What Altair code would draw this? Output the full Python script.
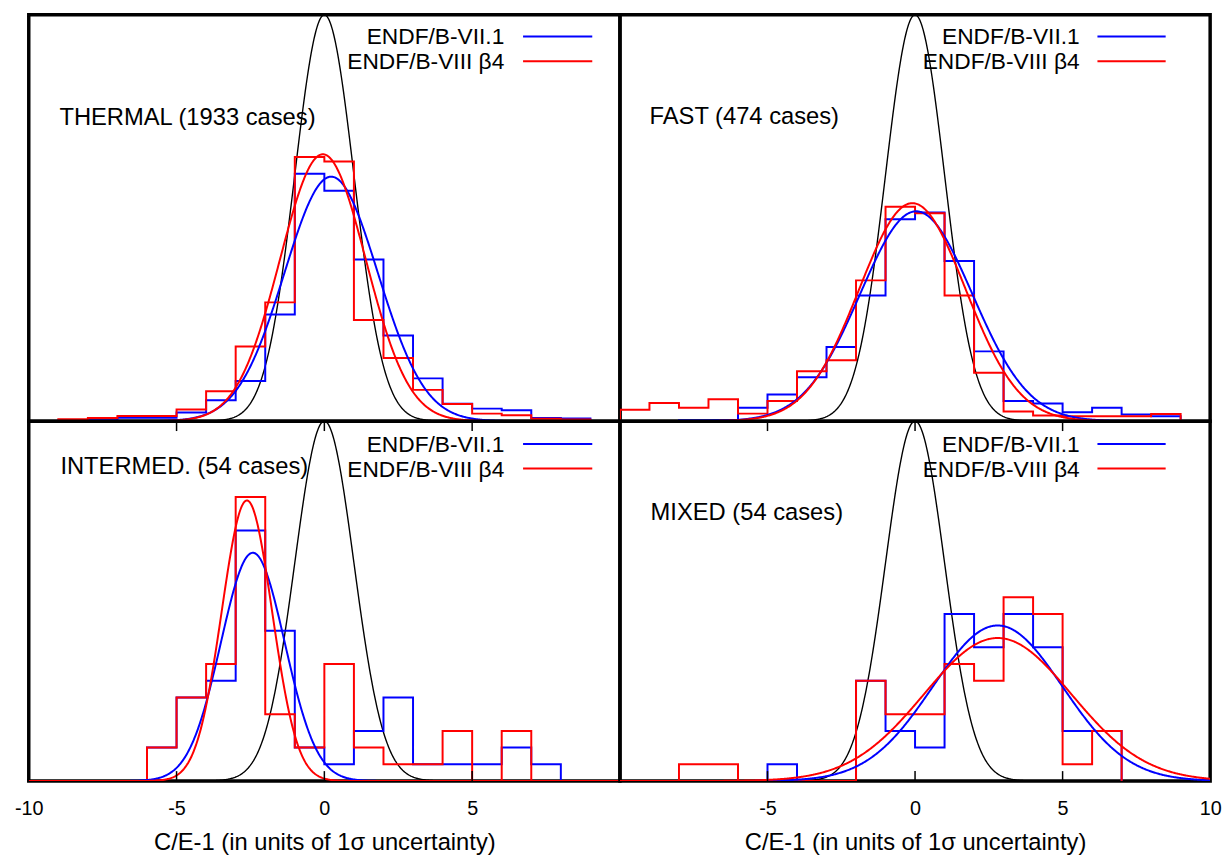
import altair as alt
import numpy as np
import pandas as pd

FONT = "Liberation Sans"
BLUE = "#0000ff"
RED = "#ff0000"
X_DOMAIN = [-10, 10]
Y_TOP = 0.3989  # peak of the unit normal reaches the top of each panel

# ---------------- histogram data (density per unit of C/E-1, bin width 1) ----------------
# THERMAL (1933 cases) - bins start at left edge given, width 1
thermal_vii1_start = -9
thermal_vii1 = [0.001, 0.001, 0.0034, 0.0034, 0.0085, 0.0206, 0.0394, 0.1047, 0.2429,
                0.2261, 0.1586, 0.0840, 0.0420, 0.0171, 0.0123, 0.0107, 0.0032, 0.0026]
thermal_viii_start = -9
thermal_viii = [0.002, 0.003, 0.005, 0.005, 0.0115, 0.0293, 0.0733, 0.1166, 0.2594,
                0.2549, 0.0992, 0.0620, 0.0307, 0.0168, 0.0074, 0.0058, 0.0023, 0.0016]

# FAST (474 cases)
fast_vii1_start = -8
fast_vii1 = [0.001, 0.001, 0.0132, 0.0262, 0.0430, 0.0727, 0.1234, 0.1983, 0.2048,
             0.1573, 0.0685, 0.0197, 0.0174, 0.0087, 0.0132, 0.0065, 0.0048]
fast_viii_start = -10
fast_viii = [0.0113, 0.0178, 0.0132, 0.0216, 0.0074, 0.0197, 0.0491, 0.0598, 0.1382,
             0.2106, 0.2041, 0.1234, 0.0475, 0.0094, 0.0055, 0.0048, 0.0048, 0.0048, 0.0071]

# INTERMED. (54 cases) - counts per bin
inter_n = 54
inter_vii1_start = -6
inter_vii1_counts = [2, 5, 6, 15, 9, 2, 1, 3, 5, 1, 1, 1, 2, 1]
inter_viii_start = -6
inter_viii_counts = [2, 5, 7, 17, 4, 2, 7, 2, 1, 1, 3, 0, 3]

# MIXED (54 cases) - counts per bin
mixed_n = 54
mixed_vii1_start = -5
mixed_vii1_counts = [1, 0, 0, 6, 3, 2, 10, 8, 10, 8, 3, 3]
mixed_viii_start = -8
mixed_viii_counts = [1, 1, 0, 0, 0, 0, 6, 4, 4, 7, 6, 11, 10, 1, 3]

# ---------------- Gaussian fits: (amplitude, mean, sigma) ----------------
thermal_vii1_fit = (0.240, 0.23, 1.58)
thermal_viii_fit = (0.262, -0.05, 1.45)
fast_vii1_fit = (0.206, 0.04, 1.90)
fast_viii_fit = (0.214, -0.09, 1.80)
inter_vii1_fit = (0.253, -2.42, 1.08)
inter_viii_fit = (0.311, -2.62, 0.85)
mixed_vii1_fit = (0.1724, 2.80, 2.20)
mixed_viii_fit = (0.1585, 2.80, 2.50)
unit_normal_fit = (0.3989, 0.0, 1.0)

legend_labels = ["ENDF/B-VII.1", "ENDF/B-VIII \u03b24"]
axis_title = "C/E-1 (in units of 1\u03c3 uncertainty)"


def step_df(start, vals):
    xs = [start]
    ys = [0.0]
    for k, v in enumerate(vals):
        xs.append(start + k)
        ys.append(v)
    end = start + len(vals)
    xs += [end, end]
    ys += [vals[-1], 0.0]
    return pd.DataFrame({"x": xs, "y": ys, "i": list(range(len(xs)))})


def gauss_df(params):
    a, m, s = params
    xs = np.linspace(-10, 10, 801)
    return pd.DataFrame({"x": xs, "y": a * np.exp(-0.5 * ((xs - m) / s) ** 2)})


def make_panel(w, h, hists, fits, label, label_pos, legend_pos, axis_values):
    xscale = alt.Scale(domain=X_DOMAIN, nice=False, zero=False)
    yscale = alt.Scale(domain=[0, Y_TOP], nice=False, zero=True)
    if axis_values is None:
        xaxis = None
    else:
        xaxis = alt.Axis(values=axis_values, ticks=False, tickSize=0, domain=False, grid=False,
                         labelFont=FONT, labelFontSize=20, labelColor="black",
                         labelPadding=18, labelFlush=False,
                         labelExpr="datum.value < 0 ? '-' + abs(datum.value) : '' + datum.value",
                         title=axis_title, titleFont=FONT, titleFontSize=24,
                         titleFontWeight="normal", titleColor="black", titlePadding=12)
    X = alt.X("x:Q", scale=xscale, axis=xaxis, title=axis_title if xaxis is not None else None)
    Y = alt.Y("y:Q", scale=yscale, axis=None)

    layers = []
    layers.append(alt.Chart(gauss_df(unit_normal_fit)).mark_line(
        color="black", strokeWidth=1.4, clip=True).encode(x=X, y=Y))
    for (start, vals), col in zip(hists, [BLUE, RED]):
        layers.append(alt.Chart(step_df(start, vals)).mark_line(
            color=col, strokeWidth=2, interpolate="step-after", clip=True).encode(
            x=X, y=Y, order="i:Q"))
    for params, col in zip(fits, [BLUE, RED]):
        layers.append(alt.Chart(gauss_df(params)).mark_line(
            color=col, strokeWidth=2, clip=True).encode(x=X, y=Y))

    one = pd.DataFrame({"d": [0]})
    tx, lx1, lx2, rows = legend_pos
    for (base, ly), txt, col in zip(rows, legend_labels, [BLUE, RED]):
        layers.append(alt.Chart(one).mark_text(
            align="right", baseline="alphabetic", font=FONT, fontSize=23, color="black").encode(
            x=alt.value(tx), y=alt.value(base), text=alt.value(txt)))
        layers.append(alt.Chart(one).mark_rule(color=col, strokeWidth=2).encode(
            x=alt.value(lx1), x2=alt.value(lx2), y=alt.value(ly)))
    layers.append(alt.Chart(one).mark_text(
        align="left", baseline="alphabetic", font=FONT, fontSize=24, color="black").encode(
        x=alt.value(label_pos[0]), y=alt.value(label_pos[1]), text=alt.value(label)))

    if axis_values is not None:
        ticks = pd.DataFrame({"x": [-5, 0, 5]})
        layers.append(alt.Chart(ticks).mark_rule(color="black", strokeWidth=1.5).encode(
            x=X, y=alt.value(h), y2=alt.value(h - 10)))
        layers.append(alt.Chart(ticks).mark_rule(color="black", strokeWidth=1.5).encode(
            x=X, y=alt.value(0), y2=alt.value(10)))

    return alt.layer(*layers).properties(width=w, height=h)


TOP_H, BOT_H = 411, 364
LEFT_W, RIGHT_W = 598, 597

p1 = make_panel(LEFT_W, TOP_H,
                [(thermal_vii1_start, thermal_vii1), (thermal_viii_start, thermal_viii)],
                [thermal_vii1_fit, thermal_viii_fit],
                "THERMAL (1933 cases)", (31, 111),
                (481, 500, 570, [(30, 22), (55, 47)]), None)
p2 = make_panel(RIGHT_W, TOP_H,
                [(fast_vii1_start, fast_vii1), (fast_viii_start, fast_viii)],
                [fast_vii1_fit, fast_viii_fit],
                "FAST (474 cases)", (30, 110),
                (465, 483, 552, [(30, 22), (55, 47)]), None)
p3 = make_panel(LEFT_W, BOT_H,
                [(inter_vii1_start, [c / inter_n for c in inter_vii1_counts]),
                 (inter_viii_start, [c / inter_n for c in inter_viii_counts])],
                [inter_vii1_fit, inter_viii_fit],
                "INTERMED. (54 cases)", (32, 53),
                (481, 500, 570, [(31, 23), (56, 48)]), [-10, -5, 0, 5])
p4 = make_panel(RIGHT_W, BOT_H,
                [(mixed_vii1_start, [c / mixed_n for c in mixed_vii1_counts]),
                 (mixed_viii_start, [c / mixed_n for c in mixed_viii_counts])],
                [mixed_vii1_fit, mixed_viii_fit],
                "MIXED (54 cases)", (31, 100),
                (465, 483, 552, [(31, 23), (56, 48)]), [-5, 0, 5, 10])

chart = alt.concat(p1, p2, p3, p4, columns=2, spacing=0, bounds="flush").configure_view(
    stroke="black", strokeWidth=3.5).properties(
    padding={"left": 4, "top": 0, "right": 0, "bottom": 0},
    background="white",
)

chart.save("out.html", embed_options={"renderer": "svg", "actions": False})
